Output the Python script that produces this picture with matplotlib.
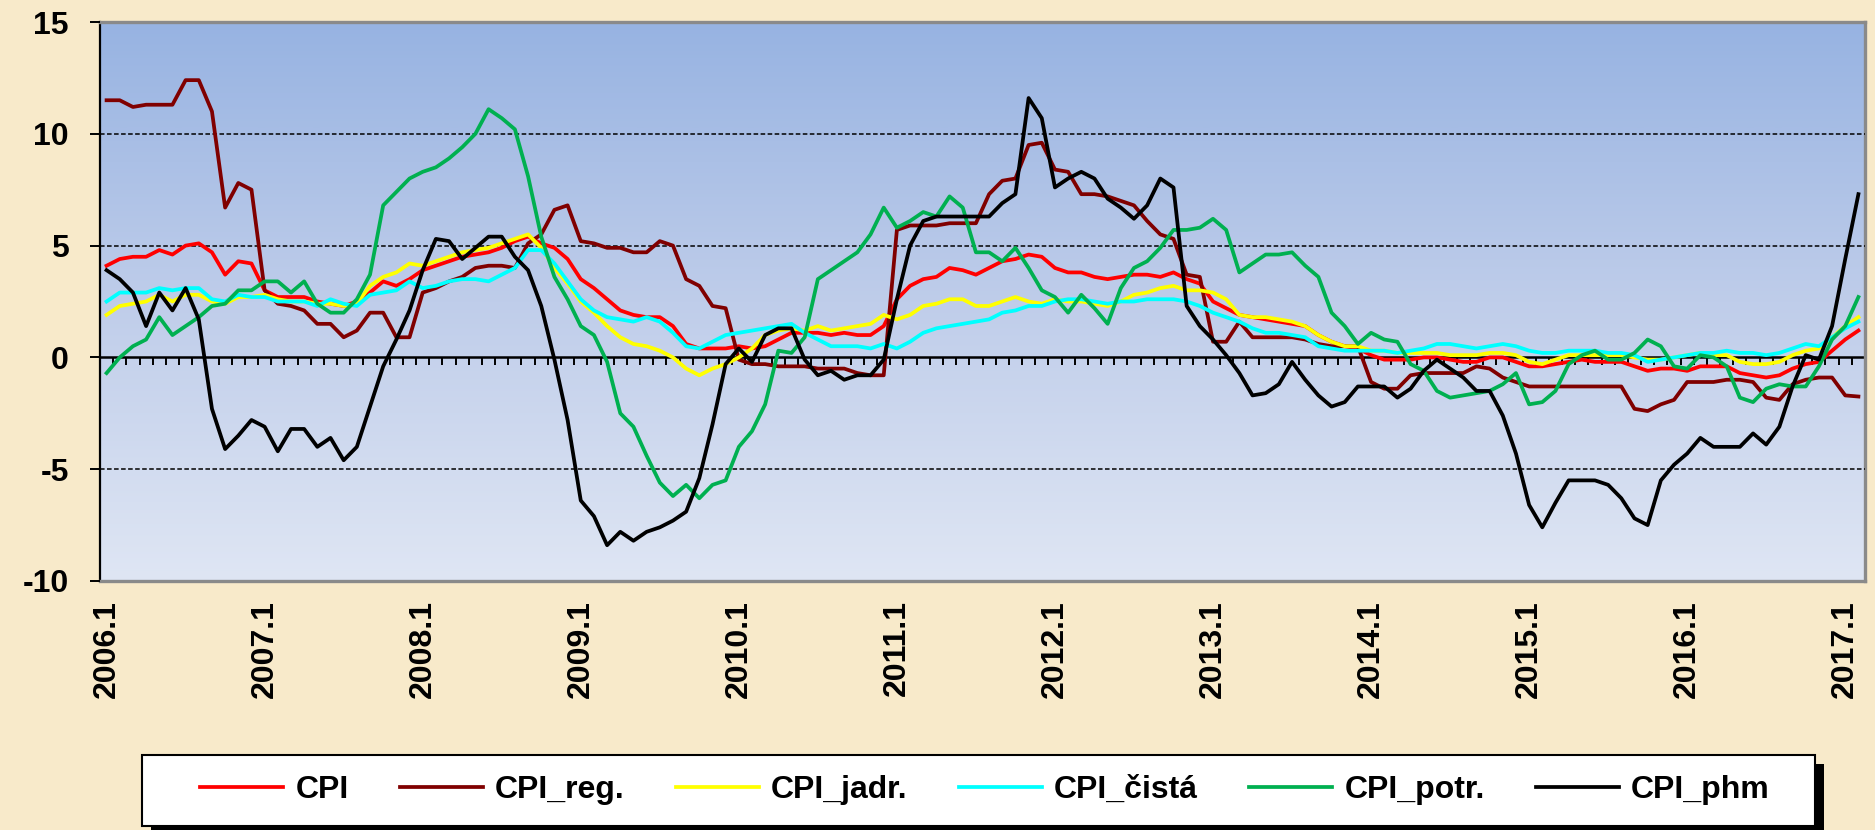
import numpy as np
import matplotlib
matplotlib.use("Agg")
import matplotlib.pyplot as plt
from matplotlib.colors import LinearSegmentedColormap
from matplotlib.patches import Rectangle

plt.rcParams['font.family'] = ['Liberation Sans', 'DejaVu Sans']
plt.rcParams['axes.unicode_minus'] = False

# months 2006.1 .. 2017.2
periods = [f"{y}.{m}" for y in range(2006, 2018) for m in range(1, 13)][:134]

cpi = [4.1, 4.4, 4.5, 4.5, 4.8, 4.6, 5.0, 5.1, 4.7, 3.7, 4.3, 4.2,
       3.0, 2.7, 2.7, 2.7, 2.5, 2.4, 2.3, 2.5, 2.9, 3.4, 3.2, 3.5,
       3.9, 4.1, 4.3, 4.5, 4.6, 4.7, 4.9, 5.2, 5.4, 5.1, 4.9, 4.4,
       3.5, 3.1, 2.6, 2.1, 1.9, 1.8, 1.8, 1.4, 0.6, 0.4, 0.4, 0.4,
       0.5, 0.4, 0.5, 0.8, 1.1, 1.1, 1.1, 1.0, 1.1, 1.0, 1.0, 1.4,
       2.6, 3.2, 3.5, 3.6, 4.0, 3.9, 3.7, 4.0, 4.3, 4.4, 4.6, 4.5,
       4.0, 3.8, 3.8, 3.6, 3.5, 3.6, 3.7, 3.7, 3.6, 3.8, 3.5, 3.3,
       2.5, 2.2, 1.9, 1.8, 1.7, 1.6, 1.5, 1.4, 1.0, 0.7, 0.5, 0.4,
       0.1, -0.1, -0.1, -0.1, 0.0, 0.0, -0.1, -0.2, -0.2, 0.0, 0.0, -0.2,
       -0.4, -0.4, -0.3, -0.2, -0.1, -0.2, -0.2, -0.2, -0.4, -0.6, -0.5, -0.5,
       -0.6, -0.4, -0.4, -0.4, -0.7, -0.8, -0.9, -0.8, -0.5, -0.3, -0.2, 0.3,
       0.8, 1.2]

cpi_reg = [11.5, 11.5, 11.2, 11.3, 11.3, 11.3, 12.4, 12.4, 11.0, 6.7, 7.8, 7.5,
           3.0, 2.4, 2.3, 2.1, 1.5, 1.5, 0.9, 1.2, 2.0, 2.0, 0.9, 0.9,
           2.9, 3.1, 3.4, 3.6, 4.0, 4.1, 4.1, 4.0, 5.1, 5.5, 6.6, 6.8,
           5.2, 5.1, 4.9, 4.9, 4.7, 4.7, 5.2, 5.0, 3.5, 3.2, 2.3, 2.2,
           -0.1, -0.3, -0.3, -0.4, -0.4, -0.4, -0.5, -0.5, -0.5, -0.7, -0.8, -0.8,
           5.7, 5.9, 5.9, 5.9, 6.0, 6.0, 6.0, 7.3, 7.9, 8.0, 9.5, 9.6,
           8.4, 8.3, 7.3, 7.3, 7.2, 7.0, 6.8, 6.1, 5.5, 5.3, 3.7, 3.6,
           0.7, 0.7, 1.6, 0.9, 0.9, 0.9, 0.9, 0.8, 0.6, 0.5, 0.5, 0.5,
           -1.1, -1.4, -1.4, -0.8, -0.7, -0.7, -0.7, -0.7, -0.4, -0.5, -0.9, -1.1,
           -1.3, -1.3, -1.3, -1.3, -1.3, -1.3, -1.3, -1.3, -2.3, -2.4, -2.1, -1.9,
           -1.1, -1.1, -1.1, -1.0, -1.0, -1.1, -1.8, -1.9, -1.2, -1.0, -0.9, -0.9,
           -1.7, -1.75]

cpi_jadr = [1.9, 2.3, 2.4, 2.5, 2.8, 2.5, 2.8, 2.8, 2.5, 2.4, 2.7, 2.7,
            2.8, 2.6, 2.5, 2.5, 2.4, 2.4, 2.3, 2.4, 3.2, 3.6, 3.8, 4.2,
            4.1, 4.3, 4.5, 4.7, 4.8, 4.9, 5.1, 5.3, 5.5, 4.9, 4.0, 3.3,
            2.5, 2.0, 1.4, 0.9, 0.6, 0.5, 0.3, 0.0, -0.5, -0.8, -0.5, -0.3,
            0.0, 0.4, 1.0, 1.2, 1.3, 1.2, 1.4, 1.2, 1.3, 1.4, 1.5, 1.9,
            1.7, 1.9, 2.3, 2.4, 2.6, 2.6, 2.3, 2.3, 2.5, 2.7, 2.5, 2.4,
            2.6, 2.5, 2.5, 2.4, 2.3, 2.5, 2.8, 2.9, 3.1, 3.2, 3.0, 3.0,
            2.9, 2.6, 1.9, 1.8, 1.8, 1.7, 1.6, 1.4, 1.0, 0.7, 0.5, 0.5,
            0.3, 0.3, 0.2, 0.2, 0.2, 0.2, 0.1, 0.1, 0.1, 0.2, 0.2, 0.1,
            -0.2, -0.3, -0.1, 0.1, 0.1, 0.1, 0.1, 0.1, 0.0, -0.1, -0.1, 0.0,
            0.1, 0.2, 0.1, 0.1, -0.2, -0.3, -0.3, -0.2, 0.1, 0.3, 0.4, 0.9,
            1.4, 1.8]

cpi_cista = [2.5, 2.9, 2.9, 2.9, 3.1, 3.0, 3.1, 3.1, 2.6, 2.5, 2.8, 2.7,
             2.7, 2.5, 2.5, 2.5, 2.3, 2.6, 2.4, 2.3, 2.8, 2.9, 3.0, 3.4,
             3.1, 3.2, 3.4, 3.5, 3.5, 3.4, 3.7, 4.0, 4.8, 4.8, 4.2, 3.4,
             2.6, 2.1, 1.8, 1.7, 1.6, 1.8, 1.6, 1.1, 0.5, 0.4, 0.7, 1.0,
             1.1, 1.2, 1.3, 1.4, 1.5, 1.1, 0.8, 0.5, 0.5, 0.5, 0.4, 0.6,
             0.4, 0.7, 1.1, 1.3, 1.4, 1.5, 1.6, 1.7, 2.0, 2.1, 2.3, 2.3,
             2.5, 2.6, 2.6, 2.5, 2.4, 2.5, 2.5, 2.6, 2.6, 2.6, 2.5, 2.3,
             2.0, 1.8, 1.6, 1.3, 1.1, 1.1, 1.0, 0.9, 0.5, 0.4, 0.3, 0.3,
             0.3, 0.3, 0.2, 0.3, 0.4, 0.6, 0.6, 0.5, 0.4, 0.5, 0.6, 0.5,
             0.3, 0.2, 0.2, 0.3, 0.3, 0.3, 0.2, 0.2, 0.1, -0.2, -0.1, 0.0,
             0.1, 0.2, 0.2, 0.3, 0.2, 0.2, 0.1, 0.2, 0.4, 0.6, 0.5, 0.9,
             1.3, 1.6]

cpi_potr = [-0.7, 0.0, 0.5, 0.8, 1.8, 1.0, 1.4, 1.8, 2.3, 2.4, 3.0, 3.0,
            3.4, 3.4, 2.9, 3.4, 2.4, 2.0, 2.0, 2.6, 3.7, 6.8, 7.4, 8.0,
            8.3, 8.5, 8.9, 9.4, 10.0, 11.1, 10.7, 10.2, 8.1, 5.4, 3.6, 2.6,
            1.4, 1.0, -0.2, -2.5, -3.1, -4.4, -5.6, -6.2, -5.7, -6.3, -5.7, -5.5,
            -4.0, -3.3, -2.1, 0.3, 0.2, 0.9, 3.5, 3.9, 4.3, 4.7, 5.5, 6.7,
            5.8, 6.1, 6.5, 6.3, 7.2, 6.7, 4.7, 4.7, 4.3, 4.9, 4.0, 3.0,
            2.7, 2.0, 2.8, 2.2, 1.5, 3.1, 4.0, 4.3, 4.9, 5.7, 5.7, 5.8,
            6.2, 5.7, 3.8, 4.2, 4.6, 4.6, 4.7, 4.1, 3.6, 2.0, 1.4, 0.6,
            1.1, 0.8, 0.7, -0.3, -0.6, -1.5, -1.8, -1.7, -1.6, -1.5, -1.2, -0.7,
            -2.1, -2.0, -1.5, -0.3, 0.1, 0.3, -0.1, -0.1, 0.2, 0.8, 0.5, -0.4,
            -0.5, 0.1, 0.0, -0.4, -1.8, -2.0, -1.4, -1.2, -1.3, -1.3, -0.4, 0.8,
            1.4, 2.7]

cpi_phm = [3.9, 3.5, 2.9, 1.4, 2.9, 2.1, 3.1, 1.7, -2.3, -4.1, -3.5, -2.8,
           -3.1, -4.2, -3.2, -3.2, -4.0, -3.6, -4.6, -4.0, -2.2, -0.4, 0.8, 2.1,
           3.9, 5.3, 5.2, 4.4, 4.9, 5.4, 5.4, 4.5, 3.9, 2.3, -0.1, -2.8,
           -6.4, -7.1, -8.4, -7.8, -8.2, -7.8, -7.6, -7.3, -6.9, -5.4, -3.0, -0.3,
           0.4, -0.2, 1.0, 1.3, 1.3, -0.1, -0.8, -0.6, -1.0, -0.8, -0.8, -0.1,
           2.6, 5.0, 6.1, 6.3, 6.3, 6.3, 6.3, 6.3, 6.9, 7.3, 11.6, 10.7,
           7.6, 8.0, 8.3, 8.0, 7.1, 6.7, 6.2, 6.8, 8.0, 7.6, 2.3, 1.4,
           0.8, 0.1, -0.7, -1.7, -1.6, -1.2, -0.2, -1.0, -1.7, -2.2, -2.0, -1.3,
           -1.3, -1.3, -1.8, -1.4, -0.6, -0.1, -0.5, -0.9, -1.5, -1.5, -2.6, -4.3,
           -6.6, -7.6, -6.5, -5.5, -5.5, -5.5, -5.7, -6.3, -7.2, -7.5, -5.5, -4.8,
           -4.3, -3.6, -4.0, -4.0, -4.0, -3.4, -3.9, -3.1, -1.3, 0.1, -0.1, 1.4,
           4.4, 7.3]

series_names = ['CPI', 'CPI_reg.', 'CPI_jadr.', 'CPI_čistá', 'CPI_potr.', 'CPI_phm']
series_colors = ['#FF0000', '#800000', '#FFFF00', '#00FFFF', '#00B050', '#000000']
y_ticks = [-10, -5, 0, 5, 10, 15]
y_tick_labels = ['-10', '-5', '0', '5', '10', '15']

W, H = 1875, 830
fig = plt.figure(figsize=(W / 100, H / 100), dpi=100)
fig.patch.set_facecolor('#F8EACA')

ax = fig.add_axes([100 / W, 1 - 581 / H, 1765 / W, 559 / H])
x = np.arange(len(periods))
xmin, xmax = -0.5, len(periods) - 0.5
ymin, ymax = -10, 15

# gradient plot area
grad_cmap = LinearSegmentedColormap.from_list('bg', ['#DFE6F4', '#BFCDEA', '#97B3E2'])
grad = np.linspace(0, 1, 256).reshape(-1, 1)
ax.imshow(grad, extent=[xmin, xmax, ymin, ymax], aspect='auto', cmap=grad_cmap,
          origin='lower', zorder=0, interpolation='bilinear')

for vals, name, col in zip([cpi, cpi_reg, cpi_jadr, cpi_cista, cpi_potr, cpi_phm],
                           series_names, series_colors):
    ax.plot(x, vals, color=col, lw=2.7, label=name, zorder=3)

ax.set_xlim(xmin, xmax)
ax.set_ylim(ymin, ymax)

# dashed gridlines
ax.set_yticks(y_ticks, y_tick_labels)
ax.yaxis.grid(True, color='black', linestyle=(0, (3, 1.6)), linewidth=1.1)
ax.set_axisbelow(False)
for gl, v in zip(ax.yaxis.get_gridlines(), y_ticks):
    if v in (ymin, ymax, 0):
        gl.set_visible(False)

ax.tick_params(axis='y', direction='out', length=7.5, width=1.4, color='black',
               labelsize=23, pad=15)
for t in ax.get_yticklabels():
    t.set_fontweight('bold')

lab_pos = x[::12]
ax.set_xticks(lab_pos, [periods[i] for i in lab_pos], rotation=90)
ax.tick_params(axis='x', length=0, labelsize=23, pad=14)
for t in ax.get_xticklabels():
    t.set_fontweight('bold')

for s in ['top', 'right', 'bottom']:
    ax.spines[s].set_color('#8A8A8A')
    ax.spines[s].set_linewidth(2.4)
ax.spines['left'].set_color('black')
ax.spines['left'].set_linewidth(1.6)

# category axis crossing at zero with monthly tick marks
sec = ax.secondary_xaxis((0 - ymin) / (ymax - ymin))
sec.set_xticks(np.arange(xmin, xmax + 0.01, 1), [])
sec.tick_params(axis='x', direction='out', length=6, width=1.4, color='black')
sec.spines['bottom'].set_color('black')
sec.spines['bottom'].set_linewidth(1.8)
sec.set_zorder(1)

# legend box with hard shadow
bx0, bx1, by_top, by_bot = 142, 1815, 755, 826
fig.patches.append(Rectangle(((bx0 + 9) / W, (H - by_bot - 9) / H), (bx1 - bx0) / W,
                             (by_bot - by_top) / H, transform=fig.transFigure,
                             facecolor='black', edgecolor='none', zorder=1))
fig.patches.append(Rectangle((bx0 / W, (H - by_bot) / H), (bx1 - bx0) / W,
                             (by_bot - by_top) / H, transform=fig.transFigure,
                             facecolor='white', edgecolor='black', linewidth=1.5, zorder=2))

handles, labels = ax.get_legend_handles_labels()
leg = fig.legend(handles, labels, loc='center', ncol=6,
                 bbox_to_anchor=(985 / W, (H - 790) / H),
                 frameon=False, prop={'weight': 'bold', 'size': 23},
                 handlelength=2.6, handletextpad=0.38, columnspacing=1.6,
                 borderpad=0, borderaxespad=0)
leg.set_zorder(5)
for ln in leg.get_lines():
    ln.set_linewidth(2.7)

fig.savefig('out.png', dpi=100, facecolor=fig.get_facecolor())
